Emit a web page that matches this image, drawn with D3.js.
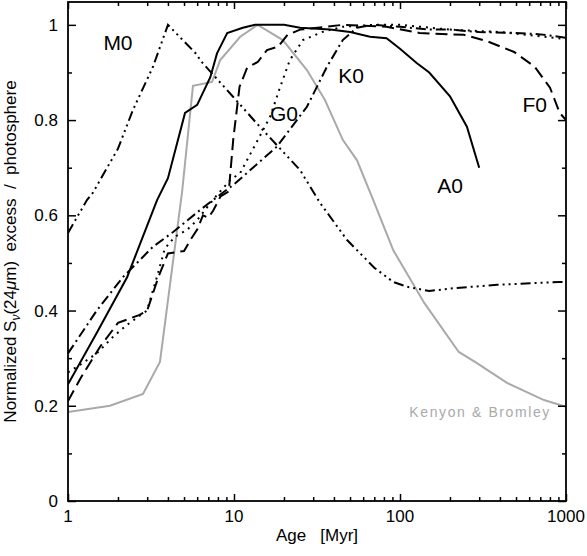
<!DOCTYPE html>
<html>
<head>
<meta charset="utf-8">
<script src="https://cdn.jsdelivr.net/npm/d3@7"></script>
<style>
  body { margin: 0; background: #fff; }
  text { font-family: "Liberation Sans", Arial, Helvetica, sans-serif; }
</style>
</head>
<body>
<div id="chart"></div>
<script>
// model curves, age in Myr -> normalized 24um excess
var ageA0 = [1, 1.5, 2.27, 3.44, 4, 5.07, 6, 7.2, 7.9, 9.1, 11.3, 13.4, 20, 25, 38, 50, 66, 83, 100, 126, 150, 200, 253, 300];
var valA0 = [0.245, 0.355, 0.47, 0.632, 0.678, 0.815, 0.832, 0.89, 0.94, 0.983, 0.994, 1.0, 1.0, 0.994, 0.99, 0.985, 0.975, 0.972, 0.95, 0.92, 0.90, 0.85, 0.786, 0.70];

var ageF0 = [1, 1.2, 1.56, 2, 2.7, 3, 3.5, 4, 5, 5.5, 6, 6.5, 7, 7.5, 8.3, 9.3, 9.9, 10.8, 12, 13.9, 15.8, 18.4, 21, 25, 36, 45, 83, 131, 243, 333, 487, 648, 801, 917, 1000];
var valF0 = [0.21, 0.26, 0.324, 0.374, 0.391, 0.40, 0.47, 0.52, 0.525, 0.55, 0.57, 0.60, 0.595, 0.61, 0.64, 0.65, 0.76, 0.87, 0.91, 0.922, 0.947, 0.954, 0.979, 0.99, 0.996, 1.0, 0.996, 0.983, 0.979, 0.966, 0.943, 0.912, 0.868, 0.815, 0.80];

var ageG0 = [1, 1.23, 1.49, 1.87, 2.27, 2.99, 3.43, 3.83, 4.4, 5.2, 6, 7, 8, 9.5, 10.9, 13.9, 16.5, 19, 21.7, 26, 34, 45, 70, 100, 200, 400, 1000];
var valG0 = [0.27, 0.29, 0.31, 0.345, 0.37, 0.40, 0.47, 0.53, 0.555, 0.569, 0.59, 0.62, 0.645, 0.674, 0.689, 0.758, 0.807, 0.87, 0.926, 0.968, 0.985, 0.996, 1.0, 1.0, 0.99, 0.985, 0.97];

var ageK0 = [1, 1.49, 2.14, 3.25, 4.3, 6.24, 8, 10, 13, 18.1, 27.5, 36.3, 45.2, 55, 69, 100, 150, 200, 300, 500, 700, 1000];
var valK0 = [0.31, 0.40, 0.47, 0.534, 0.565, 0.611, 0.64, 0.665, 0.70, 0.744, 0.828, 0.912, 0.968, 0.994, 1.0, 0.996, 0.99, 0.99, 0.985, 0.983, 0.98, 0.973];

var ageM0 = [1, 1.3, 1.41, 2, 2.46, 3.25, 4, 6, 6.24, 9.87, 14.3, 25, 33, 48, 70, 91, 110, 150, 211, 385, 906, 1000];
var valM0 = [0.563, 0.632, 0.647, 0.74, 0.821, 0.912, 1.0, 0.937, 0.926, 0.849, 0.786, 0.695, 0.626, 0.548, 0.49, 0.46, 0.45, 0.441, 0.447, 0.454, 0.46, 0.46];

var ageKB = [1, 1.79, 2.83, 3.58, 4.87, 5.66, 7.37, 8.26, 10.9, 13.9, 19.7, 27.5, 35.3, 45.3, 55, 69, 91, 140, 226, 283, 441, 737, 1000];
var valKB = [0.187, 0.20, 0.225, 0.292, 0.65, 0.872, 0.88, 0.926, 0.975, 1.0, 0.968, 0.905, 0.842, 0.758, 0.716, 0.632, 0.527, 0.416, 0.313, 0.292, 0.248, 0.212, 0.198];

var labelNames = ["M0", "K0", "G0", "F0", "A0"];
var labelAge = [2.0, 50.7, 20.0, 648, 200];
var labelVal = [0.948, 0.878, 0.798, 0.817, 0.647];

var xTickLabels = ["1", "10", "100", "1000"];
var yTickLabels = ["0", "0.2", "0.4", "0.6", "0.8", "1"];

var W = 587, H = 556;
var pLeft = 68, pRight = 566, pTop = 2, pBottom = 501;

var svg = d3.select("#chart").append("svg")
    .attr("width", W)
    .attr("height", H);

var x = d3.scaleLog().domain([1, 1000]).range([pLeft, pRight]);
var y = d3.scaleLinear().domain([0, 1.048]).range([pBottom, pTop]);

svg.append("defs").append("clipPath").attr("id", "clip")
  .append("rect")
    .attr("x", pLeft).attr("y", pTop)
    .attr("width", pRight - pLeft).attr("height", pBottom - pTop);

var line = d3.line()
    .x(function(d) { return x(d[0]); })
    .y(function(d) { return y(d[1]); });

function pairs(a, b) { return a.map(function(v, i) { return [v, b[i]]; }); }

var series = [
  {data: pairs(ageKB, valKB), color: "#a9a9a9", dash: null},
  {data: pairs(ageA0, valA0), color: "#000", dash: null},
  {data: pairs(ageF0, valF0), color: "#000", dash: "12,6"},
  {data: pairs(ageG0, valG0), color: "#000", dash: "2,5"},
  {data: pairs(ageK0, valK0), color: "#000", dash: "10,4,2,4"},
  {data: pairs(ageM0, valM0), color: "#000", dash: "10,4,2,4,2,4,2,4"}
];

var g = svg.append("g").attr("clip-path", "url(#clip)");
series.forEach(function(s) {
  g.append("path")
    .datum(s.data)
    .attr("d", line)
    .attr("fill", "none")
    .attr("stroke", s.color)
    .attr("stroke-width", 2)
    .attr("stroke-dasharray", s.dash);
});

// axes: ticks point inward on all four sides
var xMinor = [];
[1, 10, 100].forEach(function(dec) {
  for (var k = 2; k <= 9; k++) xMinor.push(dec * k);
});
var xMajor = [1, 10, 100, 1000];

svg.append("g").attr("transform", "translate(0," + pBottom + ")")
  .call(d3.axisTop(x).tickValues(xMinor).tickSize(4).tickFormat(""));
svg.append("g").attr("transform", "translate(0," + pBottom + ")")
  .call(d3.axisTop(x).tickValues(xMajor).tickSize(7).tickFormat(""));
svg.append("g").attr("transform", "translate(0," + pTop + ")")
  .call(d3.axisBottom(x).tickValues(xMinor).tickSize(4).tickFormat(""));
svg.append("g").attr("transform", "translate(0," + pTop + ")")
  .call(d3.axisBottom(x).tickValues(xMajor).tickSize(7).tickFormat(""));

var yMajor = [0, 0.2, 0.4, 0.6, 0.8, 1];
var yMinor = [0.1, 0.3, 0.5, 0.7, 0.9];
svg.append("g").attr("transform", "translate(" + pLeft + ",0)")
  .call(d3.axisRight(y).tickValues(yMinor).tickSize(4).tickFormat(""));
svg.append("g").attr("transform", "translate(" + pLeft + ",0)")
  .call(d3.axisRight(y).tickValues(yMajor).tickSize(8).tickFormat(""));
svg.append("g").attr("transform", "translate(" + pRight + ",0)")
  .call(d3.axisLeft(y).tickValues(yMinor).tickSize(4).tickFormat(""));
svg.append("g").attr("transform", "translate(" + pRight + ",0)")
  .call(d3.axisLeft(y).tickValues(yMajor).tickSize(8).tickFormat(""));

svg.selectAll(".domain").remove();
svg.selectAll(".tick line").attr("stroke", "#000").attr("stroke-width", 1.5);

svg.append("rect")
    .attr("x", pLeft).attr("y", pTop)
    .attr("width", pRight - pLeft).attr("height", pBottom - pTop)
    .attr("fill", "none")
    .attr("stroke", "#000")
    .attr("stroke-width", 1.8);

// tick labels
svg.selectAll(".xlab").data(xMajor).enter().append("text")
    .attr("x", function(d) { return x(d); })
    .attr("y", 522)
    .attr("text-anchor", "middle")
    .attr("font-size", 17)
    .text(function(d, i) { return xTickLabels[i]; });

svg.selectAll(".ylab").data(yMajor).enter().append("text")
    .attr("x", 58)
    .attr("y", function(d) { return y(d) + 6; })
    .attr("text-anchor", "end")
    .attr("font-size", 17)
    .text(function(d, i) { return yTickLabels[i]; });

// axis titles
svg.append("text")
    .attr("x", (pLeft + pRight) / 2)
    .attr("y", 541)
    .attr("text-anchor", "middle")
    .attr("font-size", 17)
    .attr("xml:space", "preserve")
    .text("Age   [Myr]");

var yt = svg.append("text")
    .attr("transform", "translate(16," + ((pTop + pBottom) / 2) + ") rotate(-90)")
    .attr("text-anchor", "middle")
    .attr("font-size", 17);
yt.append("tspan").text("Normalized S");
yt.append("tspan").attr("font-size", 12).attr("dy", 4).attr("font-style", "italic").text("\u03bd");
yt.append("tspan").attr("dy", -4).text("(24");
yt.append("tspan").attr("font-style", "italic").text("\u03bc");
yt.append("tspan").attr("xml:space", "preserve").text("m)  excess  /  photosphere");

// curve labels
svg.selectAll(".clab").data(labelNames).enter().append("text")
    .attr("x", function(d, i) { return x(labelAge[i]); })
    .attr("y", function(d, i) { return y(labelVal[i]); })
    .attr("text-anchor", "middle")
    .attr("font-size", 21)
    .text(function(d) { return d; });

svg.append("text")
    .attr("x", x(794))
    .attr("y", y(0.176))
    .attr("text-anchor", "end")
    .attr("font-size", 14)
    .attr("fill", "#a9a9a9")
    .attr("textLength", 140)
    .text("Kenyon & Bromley");
</script>
</body>
</html>
